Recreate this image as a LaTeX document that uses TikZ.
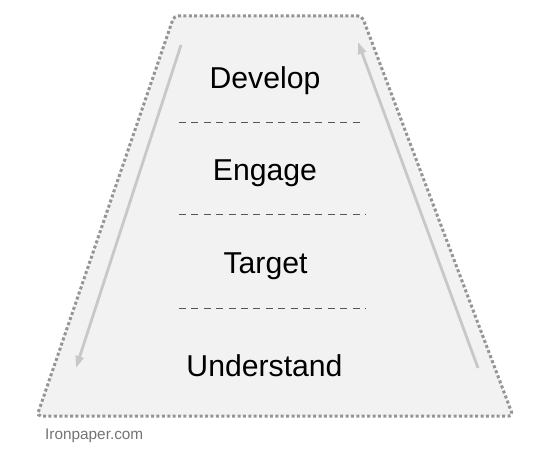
\documentclass[tikz,border=0pt]{standalone}
\usepackage{fontspec}
\setmainfont{Liberation Sans}
\usetikzlibrary{arrows.meta}
\definecolor{fillg}{HTML}{F2F2F2}
\definecolor{borderg}{HTML}{959595}
\definecolor{arrowg}{HTML}{C8C8C8}
\definecolor{sepg}{HTML}{555555}
\tikzset{
  border/.style={draw=borderg, fill=fillg, line width=3bp, dash pattern=on 3bp off 2.4bp, rounded corners=4bp},
  flow/.style={draw=arrowg, line width=2.8bp, -{Triangle[length=12bp,width=8bp]}},
  sep/.style={draw=sepg, line width=0.7bp, dash pattern=on 7bp off 5.4bp},
  level/.style={font=\fontsize{30.3}{34}\selectfont, text=black, inner sep=0pt, anchor=base},
  credit/.style={font=\fontsize{15.4}{18}\selectfont, text=black!55, inner sep=0pt, anchor=base west}
}
\begin{document}
\begin{tikzpicture}[x=1bp,y=-1bp]
\useasboundingbox (0,0) rectangle (549,462);
\path[border] (174,16) -- (362,16) -- (513,416) -- (37,416) -- cycle;
\coordinate (s1a) at (179,122); \coordinate (s1b) at (364,122);
\coordinate (s2a) at (179,214); \coordinate (s2b) at (366,214);
\coordinate (s3a) at (179,308); \coordinate (s3b) at (366,308);
\draw[sep] (s1a) -- (s1b);
\draw[sep] (s2a) -- (s2b);
\draw[sep] (s3a) -- (s3b);
\coordinate (la) at (181,45); \coordinate (lb) at (76,368);
\coordinate (ra) at (478,368); \coordinate (rb) at (358,42);
\draw[flow] (la) -- (lb);
\draw[flow] (ra) -- (rb);
\node[level] (develop) at (265,89) {Develop};
\node[level] (engage) at (265,181) {Engage};
\node[level] (target) at (265.5,274) {Target};
\node[level] (understand) at (264.5,376) {Understand};
\node[credit] (credit) at (45,439) {Ironpaper.com};
\end{tikzpicture}
\end{document}
